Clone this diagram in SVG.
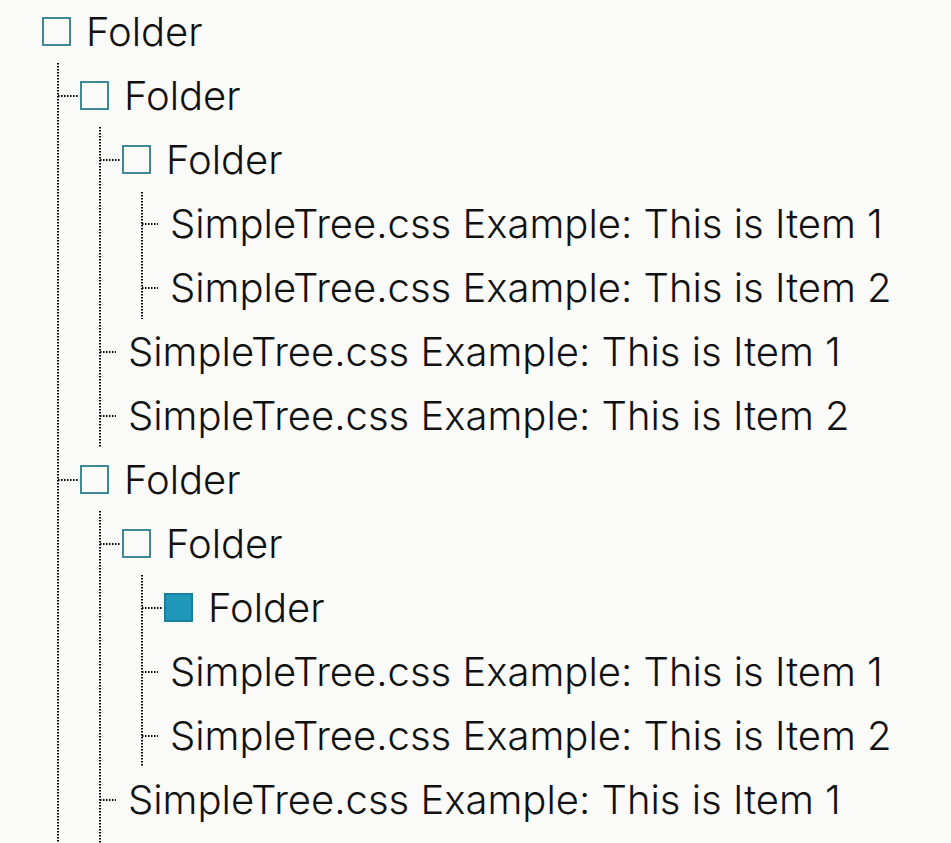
<svg xmlns="http://www.w3.org/2000/svg" width="951" height="843" viewBox="0 0 951 843">
<style>
.bg{fill:#fafaf8}
.t{font-family:Inter,"Noto Sans",sans-serif;font-size:40px;font-weight:300;fill:#111}
.box{fill:none;stroke:#3d8a95;stroke-width:2}
.sel{fill:#1f97b8;stroke:#1a7f9c;stroke-width:2}
.d{stroke:#000;stroke-width:2;stroke-dasharray:1.5 1.5;fill:none}
</style>
<rect class="bg" width="951" height="843"/>
<g id="connectors">
<path class="d" d="M58 63V843"/>
<path class="d" d="M58 96H78"/>
<path class="d" d="M58 480H78"/>
<path class="d" d="M100 127V447"/>
<path class="d" d="M100 160H120"/>
<path class="d" d="M100 352H116"/>
<path class="d" d="M100 416H116"/>
<path class="d" d="M142 192V319"/>
<path class="d" d="M142 224H158"/>
<path class="d" d="M142 288H158"/>
<path class="d" d="M100 511V843"/>
<path class="d" d="M100 544H120"/>
<path class="d" d="M100 800H116"/>
<path class="d" d="M142 575V767"/>
<path class="d" d="M142 608H162"/>
<path class="d" d="M142 672H158"/>
<path class="d" d="M142 736H158"/>
</g>
<g id="n1"><rect class="box" x="43" y="18" width="27" height="27"/><text class="t" x="86" y="46">Folder</text></g>
<g id="n2"><rect class="box" x="81" y="82" width="27" height="27"/><text class="t" x="124" y="110">Folder</text></g>
<g id="n3"><rect class="box" x="123" y="146" width="27" height="27"/><text class="t" x="166" y="174">Folder</text></g>
<g id="n4"><text class="t" x="170" y="238">SimpleTree.css Example: This is Item 1</text></g>
<g id="n5"><text class="t" x="170" y="302">SimpleTree.css Example: This is Item 2</text></g>
<g id="n6"><text class="t" x="128" y="366">SimpleTree.css Example: This is Item 1</text></g>
<g id="n7"><text class="t" x="128" y="430">SimpleTree.css Example: This is Item 2</text></g>
<g id="n8"><rect class="box" x="81" y="466" width="27" height="27"/><text class="t" x="124" y="494">Folder</text></g>
<g id="n9"><rect class="box" x="123" y="530" width="27" height="27"/><text class="t" x="166" y="558">Folder</text></g>
<g id="n10"><rect class="sel" x="165" y="594" width="27" height="27"/><text class="t" x="208" y="622">Folder</text></g>
<g id="n11"><text class="t" x="170" y="686">SimpleTree.css Example: This is Item 1</text></g>
<g id="n12"><text class="t" x="170" y="750">SimpleTree.css Example: This is Item 2</text></g>
<g id="n13"><text class="t" x="128" y="814">SimpleTree.css Example: This is Item 1</text></g>
</svg>
